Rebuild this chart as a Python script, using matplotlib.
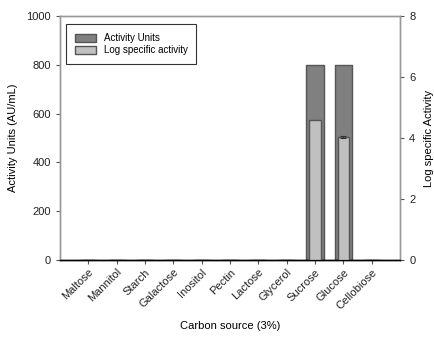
import numpy as np
import matplotlib
matplotlib.use("Agg")
import matplotlib.pyplot as plt

plt.rcParams['font.family'] = ['Liberation Sans', 'DejaVu Sans']

carbon_sources = ['Maltose', 'Mannitol', 'Starch', 'Galactose', 'Inositol', 'Pectin',
                  'Lactose', 'Glycerol', 'Sucrose', 'Glucose', 'Cellobiose']
activity_units = [0, 0, 0, 0, 0, 0, 0, 0, 800, 800, 0]
log_specific = [0, 0, 0, 0, 0, 0, 0, 0, 4.58, 4.02, 0]
log_specific_err = [0, 0, 0, 0, 0, 0, 0, 0, 0, 0.03, 0]

x = np.arange(len(carbon_sources))
err = np.array(log_specific_err)
has_err = err > 0

fig = plt.figure(figsize=(4.34, 3.39), dpi=100)
ax = fig.add_axes([0.138, 0.233, 0.784, 0.72])
ax2 = ax.twinx()

h1 = ax.bar(x, activity_units, width=0.63, color='#808080', edgecolor='#555555',
            linewidth=1.0, label='Activity Units', zorder=2)
h2 = ax2.bar(x, log_specific, width=0.4, color='#c0c0c0', edgecolor='#555555',
             linewidth=1.0, label='Log specific activity', zorder=3)
ax2.errorbar(x[has_err], np.array(log_specific)[has_err], yerr=err[has_err],
             fmt='none', ecolor='#333333', elinewidth=0.8, capsize=2.5,
             capthick=0.8, zorder=4)

ax.set_xlim(-1, 11)
ax.set_ylim(0, 1000)
ax2.set_ylim(0, 8)
ax.set_yticks([0, 200, 400, 600, 800, 1000])
ax2.set_yticks([0, 2, 4, 6, 8])
ax.set_xticks(x)
ax.set_xticklabels(carbon_sources, rotation=45, ha='right', rotation_mode='anchor',
                   fontsize=8)

for a in (ax, ax2):
    a.tick_params(labelsize=8, length=3, width=0.8, color='#555555', labelcolor='#222222')
    for s in a.spines.values():
        s.set_color('#999999')
        s.set_linewidth(1.0)
ax.spines['bottom'].set_color('black')
ax2.spines['bottom'].set_color('black')
ax.tick_params(axis='x', length=3, pad=2)

ax.set_ylabel('Activity Units (AU/mL)', fontsize=8, labelpad=6)
ax2.set_ylabel('Log specific Activity', fontsize=8, labelpad=6)
ax.set_xlabel('Carbon source (3%)', fontsize=8, labelpad=7)

leg = ax2.legend([h1, h2], ['Activity Units', 'Log specific activity'],
                 loc='upper left', bbox_to_anchor=(0.003, 0.985), fontsize=7,
                 frameon=True, fancybox=False, edgecolor='black',
                 handlelength=2.2, handleheight=0.9, borderpad=0.9, labelspacing=0.2)
leg.get_frame().set_linewidth(0.8)

fig.savefig('out.png', dpi=100)
